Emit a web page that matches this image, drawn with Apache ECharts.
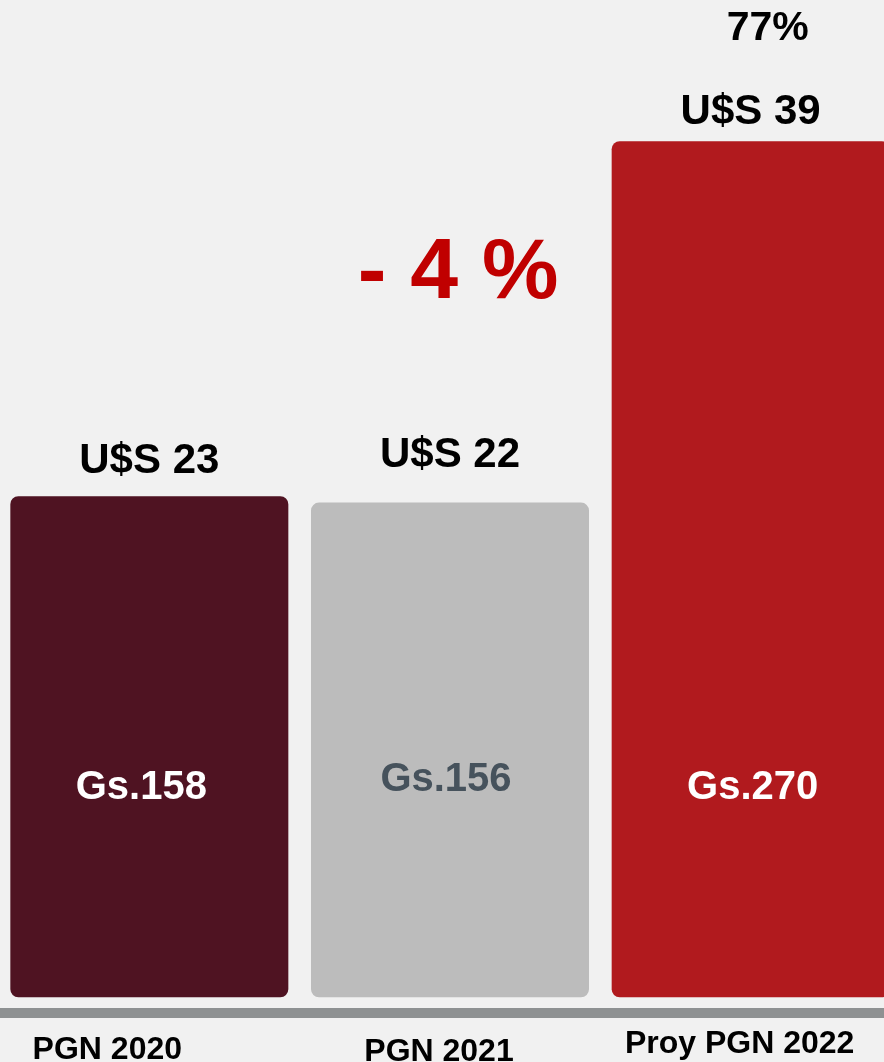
<!DOCTYPE html>
<html>
<head>
<meta charset="utf-8">
<script src="https://cdn.jsdelivr.net/npm/echarts@6/dist/echarts.min.js"></script>
<style>
  html, body { margin: 0; padding: 0; background: #f1f1f1; }
  #chart { width: 884px; height: 1062px; }
</style>
</head>
<body>
<div id="chart"></div>
<script>
// data
const categories = ["PGN 2020", "PGN 2021", "Proy PGN 2022"];
const valuesGs = [158, 156, 270];
const innerLabels = ["Gs.158", "Gs.156", "Gs.270"];
const usdLabels = ["U$S 23", "U$S 22", "U$S 39"];
const growthLabel = "77%";
const changeLabel = "- 4 %";
const changeAt = 228;
const baselineAt = -5;

const barColors = ["#4f1322", "#bcbcbc", "#b11a1e"];
const innerColors = ["#ffffff", "#46525c", "#ffffff"];
const FONT = "Liberation Sans, Arial, sans-serif";

const chart = echarts.init(document.getElementById("chart"));

// inner label sits at a fixed-ish height from the bar bottom
const innerFromBottom = [209, 217, 209];
const innerShift = [-8, -4, 2];
const topDistance = [14, 26, 6];
const catPad = [[15, 84, 0, 0], [17, 22, 0, 0], [9, 22, 0, 0]];

const mainData = valuesGs.map(function (v, i) {
  return {
    value: v,
    itemStyle: { color: barColors[i] },
    label: {
      show: true,
      formatter: innerLabels[i],
      color: innerColors[i],
      position: ["50%", v * 3.17 - innerFromBottom[i]],
      offset: [innerShift[i], 0],
      align: "center",
      verticalAlign: "middle"
    }
  };
});

const topData = valuesGs.map(function (v, i) {
  const lbl = {
    show: true,
    position: "top",
    distance: topDistance[i],
    formatter: usdLabels[i]
  };
  if (i === 2) {
    lbl.formatter = "{pct|" + growthLabel + "}\n{usd|" + usdLabels[i] + "}";
    lbl.rich = {
      pct: { fontSize: 41, fontWeight: "bold", fontFamily: FONT, color: "#000", lineHeight: 120, padding: [0, 0, 0, 34] },
      usd: { fontSize: 42, fontWeight: "bold", fontFamily: FONT, color: "#000", lineHeight: 46 }
    };
  }
  return { value: v, label: lbl };
});

chart.setOption({
  backgroundColor: "#f1f1f1",
  animation: false,
  grid: { left: -1, width: 902, top: 46, bottom: 33, containLabel: false, outerBoundsMode: "none" },
  xAxis: {
    type: "category",
    data: categories.map(function (c, i) {
      return { value: c, textStyle: { padding: catPad[i] } };
    }),
    offset: -16,
    axisLine: { show: false, onZero: false },
    axisTick: { show: false },
    axisLabel: {
      color: "#000",
      fontSize: 32,
      fontWeight: "bold",
      fontFamily: FONT,
      margin: 6,
      interval: 0
    }
  },
  yAxis: {
    type: "value",
    min: -10,
    max: 300,
    show: false,
    splitLine: { show: false }
  },
  series: [
    {
      type: "bar",
      data: mainData,
      barWidth: 278,
      itemStyle: { borderRadius: 8 },
      label: { fontSize: 40, fontWeight: "bold", fontFamily: FONT },
      markPoint: {
        symbol: "circle",
        symbolSize: 0,
        data: [{ coord: [categories[1], changeAt], value: changeLabel }],
        label: {
          show: true,
          position: "inside",
          offset: [8, 0],
          formatter: changeLabel,
          color: "#c00000",
          fontSize: 86,
          fontWeight: "bold",
          fontFamily: FONT
        }
      }
    },
    {
      type: "bar",
      data: topData,
      barWidth: 278,
      barGap: "-100%",
      itemStyle: { color: "transparent" },
      label: { color: "#000", fontSize: 42, fontWeight: "bold", fontFamily: FONT },
      silent: true,
      z: 3,
      markLine: {
        silent: true,
        symbol: "none",
        label: { show: false },
        lineStyle: { color: "#8e9192", width: 10, type: "solid", cap: "round" },
        data: [{ yAxis: baselineAt }]
      }
    }
  ]
});
</script>
</body>
</html>
